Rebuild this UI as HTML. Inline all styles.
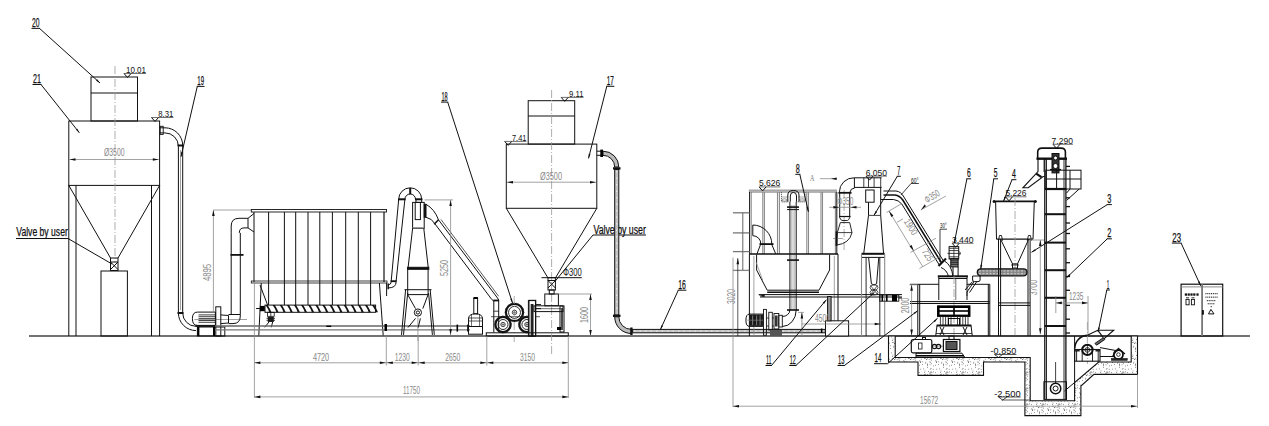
<!DOCTYPE html>
<html><head><meta charset="utf-8"><style>
html,body{margin:0;padding:0;background:#fff;}
svg{display:block;}
.k{stroke:#111;fill:none;stroke-width:1;}
.k2{stroke:#111;fill:none;stroke-width:1.6;}
.g{stroke:#8a8a8a;fill:none;stroke-width:0.8;}
.gd{stroke:#999;fill:none;stroke-width:0.8;stroke-dasharray:8 2 1 2;}
.f{fill:#111;stroke:none;}
.tk{fill:#111;stroke:#111;stroke-width:0.25;font-family:"Liberation Sans",sans-serif;}
.te{fill:#111;font-family:"Liberation Sans",sans-serif;}
.tg{fill:#888;font-family:"Liberation Sans",sans-serif;}
</style></head><body>
<svg width="1269" height="426" viewBox="0 0 1269 426">
<defs><pattern id="conc" width="16" height="16" patternUnits="userSpaceOnUse"><rect width="16" height="16" fill="#fff"/><path d="M7.3,8.9h0.7M14.5,7.5h0.7M8.1,9.3h0.7M3.1,8.2h0.7M10.0,12.5h0.7M1.7,5.0h0.7M1.7,12.8h0.7M11.0,0.9h0.7M15.4,15.2h0.7M10.4,9.8h0.7M2.7,0.5h0.7M8.4,1.2h0.7M3.2,4.0h0.7M0.8,7.4h0.7M7.1,13.3h0.7M8.3,10.2h0.7M8.0,10.5h0.7M7.3,4.6h0.7M15.7,15.6h0.7M13.2,11.2h0.7M5.2,3.8h0.7M4.8,1.4h0.7M12.1,6.5h0.7M13.3,6.3h0.7M15.1,13.3h0.7M0.3,3.5h0.7M14.3,7.5h0.7M15.4,6.4h0.7M1.4,10.0h0.7M12.3,4.5h0.7M1.6,5.4h0.7M15.1,12.0h0.7M2.1,4.1h0.7M1.9,1.2h0.7M12.6,3.0h0.7M8.9,7.2h0.7M3.2,11.6h0.7M2.3,10.2h0.7M2.1,6.8h0.7M3.6,4.5h0.7M15.3,12.7h0.7M5.0,13.9h0.7M3.5,6.4h0.7M13.5,10.2h0.7" stroke="#444" stroke-width="0.8"/></pattern></defs>
<path d="M29,336 L1250,336" stroke="#444" stroke-width="1.3"/>
<rect x="91" y="77" width="46.5" height="44" class="k"/>
<line x1="91" y1="93" x2="137.5" y2="93" class="k"/>
<rect x="68.8" y="121" width="90.8" height="64.4" class="k"/>
<line x1="115" y1="66" x2="115" y2="262" class="gd"/>
<line x1="68.8" y1="185" x2="68.8" y2="336" class="k"/>
<line x1="159.6" y1="185" x2="159.6" y2="336" class="k"/>
<line x1="76" y1="185" x2="76" y2="336" class="k"/>
<line x1="151.5" y1="185" x2="151.5" y2="336" class="k"/>
<line x1="68.8" y1="185.4" x2="110.5" y2="258" class="k"/>
<line x1="159.6" y1="185.4" x2="118" y2="258" class="k"/>
<rect x="110.5" y="258" width="7.5" height="12.5" class="k"/>
<line x1="110.5" y1="262" x2="118" y2="262" class="k"/>
<line x1="110.5" y1="262" x2="118" y2="269.5" class="k"/>
<line x1="118" y1="262" x2="110.5" y2="269.5" class="k"/>
<rect x="101" y="271" width="26.4" height="65" class="k"/>
<line x1="69.5" y1="159.5" x2="158.8" y2="159.5" class="g"/>
<path d="M69.5,159.5 L75.5,158.2 L75.5,160.8 Z" class="f"/>
<path d="M158.8,159.5 L152.8,158.2 L152.8,160.8 Z" class="f"/>
<text x="104" y="156" class="tg" font-size="10.5" textLength="20.5" lengthAdjust="spacingAndGlyphs">Ø3500</text>
<text x="126" y="73" class="te" font-size="8.5" textLength="20" lengthAdjust="spacingAndGlyphs">10.01</text>
<line x1="124.0" y1="73.5" x2="146" y2="73.5" class="k" style="stroke-width:0.6"/>
<path d="M124.0,73.5 L127.5,77.5 L131.0,73.5" class="k"/>
<text x="158.3" y="117" class="te" font-size="8.5" textLength="15.1" lengthAdjust="spacingAndGlyphs">8.31</text>
<line x1="151.5" y1="117.5" x2="173.4" y2="117.5" class="k" style="stroke-width:0.6"/>
<path d="M151.5,117.5 L155,121.5 L158.5,117.5" class="k"/>
<text x="32" y="26.9" class="tk" font-size="12" textLength="7.5" lengthAdjust="spacingAndGlyphs">20</text>
<line x1="31.5" y1="28.4" x2="40.0" y2="28.4" class="k"/>
<line x1="39.5" y1="28.4" x2="100" y2="83" class="k"/>
<path d="M100.00,83.00 L96.06,80.65 L97.26,79.32 Z" class="f"/>
<text x="33" y="83.0" class="tk" font-size="12" textLength="8" lengthAdjust="spacingAndGlyphs">21</text>
<line x1="32.5" y1="84.5" x2="41.5" y2="84.5" class="k"/>
<line x1="41" y1="84.5" x2="79.4" y2="132.8" class="k"/>
<path d="M79.40,132.80 L75.90,129.84 L77.30,128.72 Z" class="f"/>
<text x="16.3" y="236" class="tk" font-size="12" textLength="51.5" lengthAdjust="spacingAndGlyphs">Valve by user</text>
<line x1="16" y1="238.5" x2="68" y2="238.5" class="k"/>
<line x1="68" y1="238.5" x2="112" y2="264" class="k"/>
<path d="M159.6,127.8 L165,127.8 A17.7,17.7 0 0 1 182.7,145.5 L182.7,313" class="k"/>
<path d="M159.6,132.9 L165,132.9 A13.4,13.4 0 0 1 178.4,146.3 L178.4,313" class="k"/>
<line x1="180.5" y1="150" x2="180.5" y2="310" class="g"/>
<rect x="160.2" y="126.3" width="3" height="8.1" class="k" style="stroke-width:0.9"/>
<line x1="177.5" y1="145.5" x2="183.5" y2="145.5" class="k" style="stroke-width:2"/>
<line x1="177.5" y1="313" x2="183.5" y2="313" class="k" style="stroke-width:2"/>
<path d="M178.4,313 A17.6,17.6 0 0 0 196,330.6" class="k"/>
<path d="M182.7,313 A13.3,13.3 0 0 0 196,326.3" class="k"/>
<text x="197.3" y="84.9" class="tk" font-size="12" textLength="6.7" lengthAdjust="spacingAndGlyphs">19</text>
<line x1="196.8" y1="86.4" x2="204.5" y2="86.4" class="k"/>
<line x1="197.3" y1="86.4" x2="181" y2="156.7" class="k"/>
<path d="M181.00,156.70 L181.14,152.11 L182.89,152.52 Z" class="f"/>
<path d="M197.4,312.1 L215.4,312.1 L215.4,325.4 L197.4,325.4 Q192.4,325.4 192.4,318.7 Q192.4,312.1 197.4,312.1 Z" class="k"/>
<line x1="198.5" y1="314.9" x2="215" y2="314.9" class="k" style="stroke-width:0.8"/>
<line x1="198.5" y1="316.7" x2="215" y2="316.7" class="k" style="stroke-width:0.8"/>
<line x1="198.5" y1="318.6" x2="215" y2="318.6" class="k" style="stroke-width:0.8"/>
<line x1="198.5" y1="320.5" x2="215" y2="320.5" class="k" style="stroke-width:0.8"/>
<line x1="198.5" y1="322.3" x2="215" y2="322.3" class="k" style="stroke-width:0.8"/>
<line x1="194.3" y1="319.5" x2="247" y2="319.5" class="g"/>
<rect x="215.8" y="306.8" width="5" height="29.2" class="k"/>
<path d="M220.8,314.9 L228.5,315.5 L228.5,323 L220.8,323.6" class="k"/>
<path d="M228.5,314.5 L240.3,314.5 L240.3,316 Q240.3,323.6 233,323.6 L228.5,323.6" class="k"/>
<line x1="231.2" y1="232.9" x2="231.2" y2="314.5" class="k"/>
<line x1="240.3" y1="232.9" x2="240.3" y2="314.5" class="k"/>
<line x1="195.5" y1="326" x2="215.4" y2="326" class="k" style="stroke-width:1.8"/>
<rect x="197.4" y="327" width="27.4" height="9" class="k"/>
<rect x="197.4" y="327" width="2" height="9" fill="#000"/>
<rect x="213" y="327" width="2" height="9" fill="#000"/>
<path d="M231.2,232.9 L231.2,226 Q231.2,218.3 239,218.3 L248,218.3" class="k"/>
<path d="M239.3,232.9 Q239.3,227.9 244,227.9 L248,227.9" class="k"/>
<path d="M248,218.3 L254,213.5 M248,227.9 L254,232 M248,218.3 L248,227.9" class="k"/>
<line x1="230.5" y1="254.9" x2="243.5" y2="254.9" class="k" style="stroke-width:1.8"/>
<line x1="213.4" y1="210" x2="213.4" y2="313" class="g"/>
<path d="M213.4,210 L212.1,216 L214.70000000000002,216 Z" class="f"/>
<line x1="213.4" y1="210" x2="251" y2="210" class="g"/>
<text x="210.8" y="281" class="tg" font-size="10.5" textLength="17" lengthAdjust="spacingAndGlyphs" transform="rotate(-90 210.8 281)">4895</text>
<rect x="251.3" y="209.5" width="135.2" height="2.5" class="k" style="stroke-width:0.9"/>
<line x1="254" y1="212" x2="254" y2="282" class="k"/>
<line x1="384" y1="212" x2="384" y2="282" class="k" style="stroke-width:1.2"/>
<line x1="268.6" y1="212" x2="268.6" y2="305" class="k"/>
<line x1="284.4" y1="212" x2="284.4" y2="305" class="k"/>
<line x1="295.7" y1="212" x2="295.7" y2="305" class="k"/>
<line x1="308" y1="212" x2="308" y2="305" class="k"/>
<line x1="319.8" y1="212" x2="319.8" y2="305" class="k"/>
<line x1="332.4" y1="212" x2="332.4" y2="305" class="k"/>
<line x1="345.7" y1="212" x2="345.7" y2="305" class="k"/>
<line x1="358.3" y1="212" x2="358.3" y2="305" class="k"/>
<line x1="370.6" y1="212" x2="370.6" y2="305" class="k"/>
<rect x="251.3" y="281" width="135.7" height="2" class="k" style="stroke-width:0.8"/>
<line x1="261.3" y1="283" x2="258.8" y2="335.4" class="k"/>
<line x1="379.4" y1="283" x2="383.2" y2="335.4" class="k"/>
<line x1="260" y1="285" x2="267.6" y2="305" class="k"/>
<rect x="265" y="305.1" width="110.6" height="7.2" class="k"/>
<path d="M265.5,305.1 L267.7,305.1 Q270.0,309 271.5,312.3 L269.3,312.3 Q268.0,308.5 265.5,305.1 Z" class="f"/>
<path d="M272.6,305.1 L274.8,305.1 Q277.1,309 278.6,312.3 L276.40000000000003,312.3 Q275.1,308.5 272.6,305.1 Z" class="f"/>
<path d="M279.7,305.1 L281.9,305.1 Q284.2,309 285.7,312.3 L283.5,312.3 Q282.2,308.5 279.7,305.1 Z" class="f"/>
<path d="M286.8,305.1 L289.0,305.1 Q291.3,309 292.8,312.3 L290.6,312.3 Q289.3,308.5 286.8,305.1 Z" class="f"/>
<path d="M293.9,305.1 L296.09999999999997,305.1 Q298.4,309 299.9,312.3 L297.7,312.3 Q296.4,308.5 293.9,305.1 Z" class="f"/>
<path d="M301.0,305.1 L303.2,305.1 Q305.5,309 307.0,312.3 L304.8,312.3 Q303.5,308.5 301.0,305.1 Z" class="f"/>
<path d="M308.1,305.1 L310.3,305.1 Q312.6,309 314.1,312.3 L311.90000000000003,312.3 Q310.6,308.5 308.1,305.1 Z" class="f"/>
<path d="M315.2,305.1 L317.4,305.1 Q319.7,309 321.2,312.3 L319.0,312.3 Q317.7,308.5 315.2,305.1 Z" class="f"/>
<path d="M322.3,305.1 L324.5,305.1 Q326.8,309 328.3,312.3 L326.1,312.3 Q324.8,308.5 322.3,305.1 Z" class="f"/>
<path d="M329.4,305.1 L331.59999999999997,305.1 Q333.9,309 335.4,312.3 L333.2,312.3 Q331.9,308.5 329.4,305.1 Z" class="f"/>
<path d="M336.5,305.1 L338.7,305.1 Q341.0,309 342.5,312.3 L340.3,312.3 Q339.0,308.5 336.5,305.1 Z" class="f"/>
<path d="M343.6,305.1 L345.8,305.1 Q348.1,309 349.6,312.3 L347.40000000000003,312.3 Q346.1,308.5 343.6,305.1 Z" class="f"/>
<path d="M350.7,305.1 L352.9,305.1 Q355.2,309 356.7,312.3 L354.5,312.3 Q353.2,308.5 350.7,305.1 Z" class="f"/>
<path d="M357.8,305.1 L360.0,305.1 Q362.3,309 363.8,312.3 L361.6,312.3 Q360.3,308.5 357.8,305.1 Z" class="f"/>
<path d="M364.9,305.1 L367.09999999999997,305.1 Q369.4,309 370.9,312.3 L368.7,312.3 Q367.4,308.5 364.9,305.1 Z" class="f"/>
<path d="M372.0,305.1 L374.2,305.1 Q376.5,309 378.0,312.3 L375.8,312.3 Q374.5,308.5 372.0,305.1 Z" class="f"/>
<rect x="259.9" y="305.9" width="4.9" height="5.3" fill="#000"/>
<line x1="256.1" y1="308.5" x2="260" y2="308.5" class="k"/>
<rect x="267.4" y="312.3" width="6.8" height="4" class="k" style="stroke-width:0.8"/>
<line x1="270.8" y1="312.3" x2="270.8" y2="316.3" class="k" style="stroke-width:0.8"/>
<rect x="267.8" y="316.8" width="6" height="5.2" fill="#222"/>
<line x1="266.5" y1="318.3" x2="275" y2="318.3" class="k" style="stroke-width:0.8"/>
<line x1="266.5" y1="320.3" x2="275" y2="320.3" class="k" style="stroke-width:0.8"/>
<path d="M268.9,322 L264.8,327.3 M272.7,322 L271.2,327.3" class="k"/>
<path d="M215,326 L470,326" stroke="#666" stroke-width="1.4"/>
<path d="M215,329.9 L470,329.9" stroke="#777" stroke-width="1.2"/>
<rect x="384.5" y="324" width="2.5" height="7" fill="#000"/>
<rect x="326.3" y="325.6" width="4.9" height="1.4" fill="#000"/>
<path d="M398.7,199.3 A11.5,11.5 0 0 1 421.7,199.3" class="k"/>
<path d="M404.9,199.3 A5.3,5.3 0 0 1 415.5,199.3" class="k"/>
<line x1="410.2" y1="188" x2="410.2" y2="194.2" class="k" style="stroke-width:2"/>
<line x1="398" y1="199.3" x2="405.6" y2="199.3" class="k" style="stroke-width:2"/>
<line x1="415" y1="199.3" x2="422.4" y2="199.3" class="k" style="stroke-width:2"/>
<line x1="398.7" y1="199.3" x2="391.2" y2="281.2" class="k"/>
<line x1="404.9" y1="199.3" x2="396.1" y2="281.2" class="k"/>
<line x1="390.5" y1="281.2" x2="396.7" y2="281.2" class="k" style="stroke-width:1.8"/>
<line x1="416" y1="199.3" x2="416" y2="202.4" class="k"/>
<line x1="421.7" y1="199.3" x2="421.7" y2="202.4" class="k"/>
<path d="M396.1,282 Q396,287.9 388.4,287.9 M391.2,282 Q391,284.7 388.4,284.7" class="k"/>
<line x1="388.2" y1="283.6" x2="388.2" y2="289.2" class="k" style="stroke-width:1.5"/>
<line x1="386.6" y1="283" x2="386.6" y2="296" class="k"/>
<rect x="412.6" y="202.4" width="11.6" height="26.1" class="k"/>
<rect x="415.2" y="202.4" width="5.2" height="17.2" class="k"/>
<line x1="412.6" y1="227.9" x2="424.2" y2="227.9" class="g" style="stroke-width:1.5"/>
<line x1="412.6" y1="228.5" x2="408" y2="268.3" class="k"/>
<line x1="423.8" y1="228.5" x2="428.3" y2="268.3" class="k"/>
<rect x="407.5" y="267.3" width="21.3" height="2" class="k" style="fill:#111"/>
<line x1="407.7" y1="269" x2="407.7" y2="294.6" class="k"/>
<line x1="428.1" y1="269" x2="428.1" y2="294.6" class="k"/>
<line x1="407.7" y1="294.6" x2="428.1" y2="294.6" class="k"/>
<line x1="407.7" y1="294.6" x2="415.5" y2="308.6" class="k"/>
<line x1="428.1" y1="294.6" x2="422.8" y2="308.6" class="k"/>
<circle cx="417.9" cy="312.5" r="3.6" class="k"/>
<circle cx="417.9" cy="312.5" r="1.6" class="k"/>
<line x1="417.9" y1="315" x2="417.9" y2="341" class="g"/>
<path d="M405.6,289.7 L401.5,334.9 M407.7,293 L403.5,334.9 M430.2,289.7 L434.3,334.9 M428.6,293 L432.4,334.9" class="k"/>
<line x1="404.5" y1="289.7" x2="431.5" y2="289.7" class="k"/>
<line x1="415.5" y1="318.4" x2="408" y2="327.5" class="k"/>
<line x1="420.4" y1="318.4" x2="418.2" y2="327.5" class="k"/>
<rect x="424.2" y="204.3" width="1.8" height="13" class="k" style="fill:#111"/>
<path d="M426,204.3 Q434.5,209 438.5,219.8" class="k"/>
<path d="M426,217.3 Q432,218.5 434.7,223.5" class="k"/>
<line x1="434.1" y1="224.2" x2="438.5" y2="219.8" class="k" style="stroke-width:1.5"/>
<line x1="434.7" y1="223.5" x2="491.8" y2="299.5" class="k"/>
<line x1="438.5" y1="219.8" x2="497.5" y2="298" class="k"/>
<line x1="441" y1="219.5" x2="498.6" y2="296.2" class="k" style="stroke-width:0.7"/>
<line x1="424.5" y1="199.9" x2="453" y2="199.9" class="g"/>
<line x1="450.6" y1="199.9" x2="450.6" y2="335" class="g"/>
<path d="M450.6,199.9 L449.3,205.9 L451.90000000000003,205.9 Z" class="f"/>
<path d="M450.6,335 L449.3,329 L451.90000000000003,329 Z" class="f"/>
<text x="447.8" y="276" class="tg" font-size="10.5" textLength="16" lengthAdjust="spacingAndGlyphs" transform="rotate(-90 447.8 276)">5250</text>
<rect x="456.5" y="324.6" width="1.6" height="7" fill="#000"/>
<rect x="467.2" y="324.6" width="1.6" height="7" fill="#000"/>
<rect x="473.8" y="298.5" width="3.8" height="15.3" class="k"/>
<rect x="473.5" y="297" width="4.4" height="2" fill="#000"/>
<path d="M468.5,326.5 L468.5,319 Q468.5,313.8 475.5,313.8 Q482.5,313.8 482.5,319 L482.5,326.5 Z" class="k"/>
<line x1="468.5" y1="318" x2="482.5" y2="318" class="k" style="stroke-width:0.7"/>
<line x1="468.5" y1="321" x2="482.5" y2="321" class="k" style="stroke-width:0.7"/>
<line x1="471.5" y1="314.5" x2="471.5" y2="326.5" class="k" style="stroke-width:0.6"/>
<line x1="479.5" y1="314.5" x2="479.5" y2="326.5" class="k" style="stroke-width:0.6"/>
<rect x="468.5" y="326.5" width="14" height="7.7" class="k"/>
<path d="M491.8,299.5 L493.8,301 L493.8,317 M497.5,298 L498.7,300 L498.7,317" class="k"/>
<line x1="493.3" y1="300.5" x2="499" y2="300.5" class="k" style="stroke-width:1.8"/>
<line x1="493.8" y1="311.2" x2="498.7" y2="311.2" class="k" style="stroke-width:0.8"/>
<line x1="491" y1="316.7" x2="540" y2="316.7" class="k" style="stroke-width:0.7"/>
<line x1="493.8" y1="317" x2="493.8" y2="332.4" class="k"/>
<line x1="498.7" y1="317" x2="498.7" y2="332.4" class="k"/>
<circle cx="514.5" cy="312.4" r="8.6" class="k" style="stroke-width:2.2"/>
<circle cx="514.5" cy="312.4" r="9.299999999999999" fill="none" stroke="#333" stroke-width="0.9" stroke-dasharray="0.8 1"/>
<circle cx="514.5" cy="312.4" r="6.0" class="k" style="stroke-width:0.9"/>
<circle cx="514.5" cy="312.4" r="2.2" class="k" style="stroke-width:0.8"/>
<line x1="513.0" y1="312.4" x2="516.0" y2="312.4" class="k" style="stroke-width:0.5"/>
<line x1="514.5" y1="310.9" x2="514.5" y2="313.9" class="k" style="stroke-width:0.5"/>
<circle cx="503" cy="324.5" r="7.6" class="k" style="stroke-width:2.2"/>
<circle cx="503" cy="324.5" r="8.299999999999999" fill="none" stroke="#333" stroke-width="0.9" stroke-dasharray="0.8 1"/>
<circle cx="503" cy="324.5" r="5.0" class="k" style="stroke-width:0.9"/>
<circle cx="503" cy="324.5" r="2.2" class="k" style="stroke-width:0.8"/>
<line x1="501.5" y1="324.5" x2="504.5" y2="324.5" class="k" style="stroke-width:0.5"/>
<line x1="503" y1="323.0" x2="503" y2="326.0" class="k" style="stroke-width:0.5"/>
<circle cx="526.9" cy="324.5" r="7.6" class="k" style="stroke-width:2.2"/>
<circle cx="526.9" cy="324.5" r="8.299999999999999" fill="none" stroke="#333" stroke-width="0.9" stroke-dasharray="0.8 1"/>
<circle cx="526.9" cy="324.5" r="5.0" class="k" style="stroke-width:0.9"/>
<circle cx="526.9" cy="324.5" r="2.2" class="k" style="stroke-width:0.8"/>
<line x1="525.4" y1="324.5" x2="528.4" y2="324.5" class="k" style="stroke-width:0.5"/>
<line x1="526.9" y1="323.0" x2="526.9" y2="326.0" class="k" style="stroke-width:0.5"/>
<line x1="514.2" y1="296" x2="514.2" y2="342" class="gd"/>
<rect x="528.4" y="300.6" width="7.1" height="35.4" class="k" style="fill:#fff"/>
<rect x="531.2" y="304.6" width="1.8" height="31.4" class="k" style="fill:#333"/>
<line x1="535.5" y1="304.6" x2="541" y2="304.6" class="k"/>
<line x1="535.5" y1="308.6" x2="541" y2="308.6" class="k"/>
<rect x="486.3" y="332.8" width="82" height="3.2" class="k"/>
<rect x="528.2" y="100.7" width="46.5" height="43.4" class="k"/>
<line x1="528.2" y1="116" x2="574.7" y2="116" class="k"/>
<rect x="506.3" y="144.1" width="90.5" height="64.2" class="k"/>
<line x1="551.6" y1="90" x2="551.6" y2="290" class="gd"/>
<line x1="551.6" y1="294" x2="551.6" y2="356" class="gd"/>
<line x1="506.3" y1="208.3" x2="548" y2="278" class="k"/>
<line x1="596.8" y1="208.3" x2="555.4" y2="278" class="k"/>
<line x1="507" y1="182.2" x2="596" y2="182.2" class="g"/>
<path d="M507,182.2 L513,180.89999999999998 L513,183.5 Z" class="f"/>
<path d="M596,182.2 L590,180.89999999999998 L590,183.5 Z" class="f"/>
<text x="540" y="179.5" class="tg" font-size="10.5" textLength="22" lengthAdjust="spacingAndGlyphs">Ø3500</text>
<text x="569" y="96.9" class="te" font-size="8.5" textLength="14.5" lengthAdjust="spacingAndGlyphs">9.11</text>
<line x1="561.2" y1="97.4" x2="583.5" y2="97.4" class="k" style="stroke-width:0.6"/>
<path d="M561.2,97.4 L564.7,101.4 L568.2,97.4" class="k"/>
<text x="512" y="140.9" class="te" font-size="8.5" textLength="14.4" lengthAdjust="spacingAndGlyphs">7.41</text>
<line x1="504.7" y1="141.4" x2="526.4" y2="141.4" class="k" style="stroke-width:0.6"/>
<path d="M504.7,141.4 L508.2,145.4 L511.7,141.4" class="k"/>
<text x="606.8" y="84.8" class="tk" font-size="12" textLength="7.1" lengthAdjust="spacingAndGlyphs">17</text>
<line x1="606.3" y1="86.3" x2="614.4" y2="86.3" class="k"/>
<line x1="606.8" y1="86.3" x2="588.5" y2="158.4" class="k"/>
<path d="M588.50,158.40 L588.73,153.82 L590.48,154.26 Z" class="f"/>
<text x="441.5" y="100.6" class="tk" font-size="12" textLength="6.2" lengthAdjust="spacingAndGlyphs">18</text>
<line x1="441.0" y1="102.1" x2="448.2" y2="102.1" class="k"/>
<line x1="447.7" y1="102.1" x2="512.5" y2="303" class="k"/>
<path d="M512.50,303.00 L510.26,298.99 L511.98,298.44 Z" class="f"/>
<rect x="548" y="277.7" width="7.4" height="12.3" class="k"/>
<line x1="548" y1="280.5" x2="555.4" y2="288" class="k"/>
<line x1="555.4" y1="280.5" x2="548" y2="288" class="k"/>
<line x1="548" y1="280.5" x2="555.4" y2="280.5" class="k"/>
<rect x="549.3" y="290" width="4.8" height="4" class="k"/>
<rect x="544.8" y="294" width="13.6" height="11.8" class="k"/>
<rect x="534" y="305.8" width="29" height="5.8" class="k"/>
<line x1="535.8" y1="308.7" x2="561" y2="308.7" class="k" style="stroke-width:0.6"/>
<rect x="529" y="300.3" width="6.8" height="35.7" class="k"/>
<rect x="560" y="306" width="4" height="26" class="k" style="fill:none"/>
<line x1="562" y1="308" x2="562" y2="330" class="k" style="stroke-width:1.5"/>
<rect x="557" y="327" width="4" height="3" fill="#000"/>
<text x="563" y="276.4" class="te" font-size="11" textLength="18.8" lengthAdjust="spacingAndGlyphs">Φ300</text>
<line x1="541.5" y1="277.7" x2="581.8" y2="277.7" class="k"/>
<text x="593.5" y="233.5" class="tk" font-size="12" textLength="52.3" lengthAdjust="spacingAndGlyphs">Valve by user</text>
<line x1="593" y1="235" x2="646" y2="235" class="k"/>
<line x1="593" y1="235" x2="554.5" y2="282" class="k"/>
<line x1="558.5" y1="294" x2="592" y2="294" class="g"/>
<line x1="590.5" y1="294" x2="590.5" y2="336" class="g"/>
<path d="M590.5,294 L589.2,300 L591.8,300 Z" class="f"/>
<path d="M590.5,336 L589.2,330 L591.8,330 Z" class="f"/>
<text x="588" y="323" class="tg" font-size="10.5" textLength="16" lengthAdjust="spacingAndGlyphs" transform="rotate(-90 588 323)">1600</text>
<line x1="596.8" y1="151.2" x2="603" y2="151.2" class="k"/>
<line x1="596.8" y1="155.3" x2="603" y2="155.3" class="k"/>
<rect x="600.3" y="149.6" width="2.7" height="7.4" fill="#000"/>
<path d="M603,151.2 A15.8,15.8 0 0 1 618.8,167 L614.7,167 A11.7,11.7 0 0 0 603,155.3 Z" class="k" style="stroke-width:1;fill:#bdbdbd"/>
<line x1="613" y1="168.4" x2="620.5" y2="168.4" class="k" style="stroke-width:2.4"/>
<rect x="614.7" y="169.5" width="4.1" height="145.6" class="k" style="stroke-width:1;fill:#c4c4c4"/>
<path d="M616.75,171 L616.75,314" stroke="#f4f4f4" stroke-width="0.9" stroke-dasharray="1.5 5"/>
<line x1="613" y1="315.8" x2="620.5" y2="315.8" class="k" style="stroke-width:2.4"/>
<path d="M614.7,316.8 A16.7,16.7 0 0 0 631.4,333.5 L631.4,329.4 A12.6,12.6 0 0 1 618.8,316.8 Z" class="k" style="stroke-width:1;fill:#bdbdbd"/>
<line x1="631.4" y1="327.5" x2="631.4" y2="335" class="k" style="stroke-width:2.4"/>
<rect x="632.6" y="329.4" width="192.7" height="3.4" class="k" style="stroke-width:1;fill:#c4c4c4"/>
<path d="M634,331.1 L825,331.1" stroke="#f4f4f4" stroke-width="0.9" stroke-dasharray="1.5 4"/>
<text x="678.3" y="288.7" class="tk" font-size="12" textLength="7.6" lengthAdjust="spacingAndGlyphs">16</text>
<line x1="677.8" y1="290.2" x2="686.4" y2="290.2" class="k"/>
<line x1="678.3" y1="290.2" x2="660.3" y2="329.8" class="k"/>
<path d="M660.30,329.80 L661.34,325.33 L662.98,326.08 Z" class="f"/>
<rect x="749.3" y="190" width="87.2" height="2.2" class="g" style="fill:#bbb"/>
<line x1="749.6" y1="192" x2="749.6" y2="254.1" class="k" style="stroke-width:1"/>
<line x1="751.2" y1="192" x2="751.2" y2="254.1" class="g" style="stroke-width:1.1"/>
<line x1="762.8" y1="192" x2="762.8" y2="254.1" class="g" style="stroke-width:1.1"/>
<line x1="764.4" y1="192" x2="764.4" y2="254.1" class="g" style="stroke-width:1.1"/>
<line x1="777.5" y1="192" x2="777.5" y2="254.1" class="g" style="stroke-width:1.1"/>
<line x1="779.4" y1="192" x2="779.4" y2="254.1" class="g" style="stroke-width:1.1"/>
<line x1="806.8" y1="192" x2="806.8" y2="254.1" class="g" style="stroke-width:1.1"/>
<line x1="808.5" y1="192" x2="808.5" y2="254.1" class="g" style="stroke-width:1.1"/>
<line x1="821" y1="192" x2="821" y2="254.1" class="g" style="stroke-width:1.1"/>
<line x1="822.5" y1="192" x2="822.5" y2="254.1" class="g" style="stroke-width:1.1"/>
<line x1="835.4" y1="192" x2="835.4" y2="254.1" class="g" style="stroke-width:1.1"/>
<line x1="836.8" y1="192" x2="836.8" y2="254.1" class="k" style="stroke-width:1"/>
<path d="M781.5,192 L781.5,201.9 L788.3,201.9 M797.6,201.9 L805.1,201.9 L805.1,192" stroke="#555" stroke-width="0.9" fill="none" stroke-dasharray="1.2 0.8"/>
<ellipse cx="784.5" cy="200" rx="2.6" ry="1.2" fill="none" stroke="#666" stroke-width="0.7"/>
<ellipse cx="802" cy="200" rx="2.6" ry="1.2" fill="none" stroke="#666" stroke-width="0.7"/>
<path d="M782,197 L788,197 M798,197 L804.6,197" stroke="#aaa" stroke-width="1"/>
<path d="M787.8,201.7 L787.8,195 Q787.8,190.5 793.4,190.5 Q799,190.5 799,195 L799,201.7" class="k"/>
<path d="M790.3,201.7 L790.3,196 Q790.3,192.4 793.4,192.4 Q796.5,192.4 796.5,196 L796.5,201.7" class="k"/>
<line x1="789.9" y1="201.7" x2="789.9" y2="310" class="k"/>
<line x1="796.2" y1="201.7" x2="796.2" y2="310" class="k"/>
<line x1="791.9" y1="205" x2="791.9" y2="310" class="g"/>
<line x1="794.1" y1="205" x2="794.1" y2="310" class="g"/>
<line x1="787" y1="207.1" x2="799" y2="207.1" class="k" style="stroke-width:1.6"/>
<line x1="787" y1="209.6" x2="799" y2="209.6" class="k" style="stroke-width:1"/>
<line x1="787" y1="260.1" x2="799" y2="260.1" class="k" style="stroke-width:1.6"/>
<path d="M796.2,310 A14,16.5 0 0 1 782.3,326.5 M789.9,310 A7.6,6.5 0 0 1 782.3,316.5" class="k"/>
<line x1="787" y1="310" x2="799" y2="310" class="k" style="stroke-width:1.6"/>
<path d="M732.9,212.8 L749.4,212.8" stroke="#777" stroke-width="1.3"/>
<path d="M732.9,232.9 L749.4,232.9" stroke="#777" stroke-width="1.3"/>
<path d="M732.9,251.6 L749.4,251.6" stroke="#777" stroke-width="1.3"/>
<path d="M732.9,270.4 L749.4,270.4" stroke="#777" stroke-width="1.3"/>
<path d="M742.8,212.8 L742.8,270.4" stroke="#666" stroke-width="1"/>
<path d="M752.8,225 A19,19 0 0 1 771.8,244.1 M752.8,235.7 A8,8 0 0 1 760.8,244.1 M752.8,225 L752.8,235.7" class="k"/>
<line x1="759.5" y1="244.1" x2="773.5" y2="244.1" class="k" style="stroke-width:1.8"/>
<path d="M760.7,244.1 L757,253.8 M771.6,244.1 L775.7,253.8" class="k"/>
<line x1="749.4" y1="254.1" x2="838" y2="254.1" class="k" style="stroke-width:1.5"/>
<line x1="749.4" y1="254.1" x2="749.4" y2="336" class="k"/>
<line x1="838" y1="254.1" x2="838" y2="336" class="k"/>
<line x1="753.9" y1="256" x2="753.9" y2="336" class="g"/>
<line x1="834.3" y1="256" x2="834.3" y2="336" class="g"/>
<path d="M756.6,254.7 L756.6,270 L767.2,290.2 L819,290.2 L829.6,270 L829.6,254.7" class="k"/>
<line x1="767.2" y1="292.3" x2="819" y2="292.3" class="k" style="stroke-width:1.4"/>
<line x1="756" y1="262" x2="762.6" y2="280" class="g"/>
<line x1="758.7" y1="294.6" x2="902" y2="294.6" class="k" style="stroke-width:1"/>
<line x1="760" y1="297" x2="902" y2="297" class="k" style="stroke-width:1"/>
<path d="M758.7,295.8 L764.7,294.5 L764.7,297.1 Z" class="f"/>
<rect x="825.5" y="320.8" width="23.1" height="15.2" class="k" style="fill:#fff"/>
<rect x="827.6" y="296.5" width="3.5" height="24.3" class="k" style="fill:#999"/>
<rect x="820.9" y="328.5" width="1.5" height="4.5" fill="#000"/>
<path d="M749.4,314.1 L762.9,314.1 L762.9,326.4 L749.4,326.4 Q745.9,326.4 745.9,320.25 Q745.9,314.1 749.4,314.1 Z" class="k" style="stroke-width:1"/>
<rect x="749.4" y="314.6" width="13.5" height="11.3" fill="#1a1a1a"/>
<rect x="752.2" y="315.5" width="0.9" height="9.5" fill="#888"/>
<rect x="756.2" y="315.5" width="0.9" height="9.5" fill="#888"/>
<rect x="759.6" y="315.5" width="0.9" height="9.5" fill="#888"/>
<line x1="745.5" y1="320.2" x2="763" y2="320.2" class="g" style="stroke-width:0.6"/>
<rect x="763.5" y="309.4" width="2.9" height="25.8" class="k" style="stroke-width:0.9"/>
<rect x="768.8" y="312.3" width="3.5" height="17.7" class="k" style="stroke-width:0.9"/>
<rect x="774" y="313.5" width="4.8" height="15.5" class="k" style="stroke-width:0.9"/>
<rect x="775" y="315.5" width="2.6" height="11" fill="#333"/>
<rect x="778.8" y="315.3" width="3.5" height="11.7" class="k" style="stroke-width:0.9"/>
<line x1="766.4" y1="318" x2="768.8" y2="318" class="k" style="stroke-width:0.8"/>
<line x1="766.4" y1="326" x2="768.8" y2="326" class="k" style="stroke-width:0.8"/>
<line x1="772.3" y1="318" x2="774" y2="318" class="k" style="stroke-width:0.8"/>
<line x1="772.3" y1="326" x2="774" y2="326" class="k" style="stroke-width:0.8"/>
<rect x="770" y="330" width="12" height="6" fill="#555"/>
<line x1="801.9" y1="324" x2="880.7" y2="324" class="g"/>
<path d="M880.7,324 L874.7,322.7 L874.7,325.3 Z" class="f"/>
<line x1="801.9" y1="312.4" x2="801.9" y2="336" class="g" style="stroke-width:0.9"/>
<line x1="798" y1="312.4" x2="804" y2="312.4" class="g"/>
<path d="M801.9,312.4 L800.6,318.4 L803.1999999999999,318.4 Z" class="f"/>
<text x="814.9" y="321.9" class="tg" font-size="10.5" textLength="15" lengthAdjust="spacingAndGlyphs">4500</text>
<line x1="733" y1="257.5" x2="733" y2="407" class="g"/>
<line x1="733" y1="270.5" x2="749.4" y2="270.5" class="g"/>
<line x1="737.8" y1="258.2" x2="737.8" y2="336" class="k" style="stroke-width:0.7"/>
<path d="M737.8,258.2 L736.5,264.2 L739.0999999999999,264.2 Z" class="f"/>
<text x="735.3" y="304" class="tg" font-size="10.5" textLength="15" lengthAdjust="spacingAndGlyphs" transform="rotate(-90 735.3 304)">3020</text>
<text x="795.8" y="172.8" class="tk" font-size="12" textLength="4.0" lengthAdjust="spacingAndGlyphs">8</text>
<line x1="795.3" y1="174.3" x2="800.3" y2="174.3" class="k"/>
<line x1="799.8" y1="174.3" x2="808.4" y2="211.8" class="k"/>
<path d="M808.40,211.80 L806.52,207.62 L808.27,207.21 Z" class="f"/>
<text x="810" y="181.4" font-size="8" fill="#777" font-family="Liberation Serif, serif" textLength="4.4" lengthAdjust="spacingAndGlyphs">A</text>
<line x1="819.9" y1="178.7" x2="836.7" y2="178.7" class="g"/>
<path d="M831,178.7 L836.7,177.5 L836.7,179.9 Z" class="f"/>
<text x="758.9" y="186.4" class="te" font-size="8.5" textLength="21.5" lengthAdjust="spacingAndGlyphs">5.626</text>
<line x1="759.1" y1="186.9" x2="780.4" y2="186.9" class="k" style="stroke-width:0.6"/>
<path d="M759.1,186.9 L762.6,190.9 L766.1,186.9" class="k"/>
<path d="M854.4,177.8 A14.5,14.1 0 0 0 839.4,191.9" class="k"/>
<path d="M854.4,188.1 A4.8,4 0 0 0 850.2,191.9" class="k"/>
<line x1="854.4" y1="177.8" x2="854.4" y2="188.1" class="k"/>
<line x1="854.4" y1="177.8" x2="881.6" y2="177.8" class="k"/>
<line x1="854.4" y1="187.4" x2="881.6" y2="187.4" class="k"/>
<line x1="863.8" y1="177.8" x2="863.8" y2="187.4" class="k" style="stroke-width:0.8"/>
<line x1="868.5" y1="177.8" x2="868.5" y2="187.4" class="k" style="stroke-width:0.8"/>
<line x1="874.1" y1="177.8" x2="874.1" y2="187.4" class="k" style="stroke-width:0.8"/>
<line x1="880.7" y1="177.8" x2="880.7" y2="187.4" class="k" style="stroke-width:0.8"/>
<line x1="839.7" y1="191.9" x2="839.7" y2="217.5" class="k"/>
<line x1="849.7" y1="191.9" x2="849.7" y2="217.5" class="k"/>
<line x1="844.1" y1="190" x2="844.1" y2="250" class="gd"/>
<line x1="838.4" y1="192.8" x2="851.5" y2="192.8" class="k" style="stroke-width:1.8"/>
<line x1="839" y1="216.5" x2="850.5" y2="216.5" class="k" style="stroke-width:1.2"/>
<path d="M839.7,217.5 Q840.5,220 842,220.5 L847.5,220.5 Q849,220 849.7,217.5" class="k" style="stroke-width:0.9"/>
<path d="M840.3,222.6 L837.4,232.6 L836.8,245 Q849.5,243.5 852,232.6 L849.7,222.6 Z" class="k" style="stroke-width:0.9"/>
<line x1="837.4" y1="232.6" x2="852" y2="232.6" class="k" style="stroke-width:0.8"/>
<line x1="833" y1="238.5" x2="843" y2="238.5" class="g"/>
<line x1="836.4" y1="231.4" x2="836.4" y2="246" class="k" style="stroke-width:1.6"/>
<line x1="829.2" y1="207.3" x2="861" y2="207.3" class="g"/>
<path d="M839.4,207.3 L833.4,206.0 L833.4,208.60000000000002 Z" class="f"/>
<path d="M850.5,207.3 L856.5,206.0 L856.5,208.60000000000002 Z" class="f"/>
<text x="837.3" y="204.6" class="tg" font-size="10.5" textLength="16" lengthAdjust="spacingAndGlyphs">Φ350</text>
<rect x="865.7" y="190" width="8.4" height="12.2" class="k"/>
<line x1="868.5" y1="202.2" x2="868.5" y2="215.4" class="k"/>
<line x1="880.7" y1="187.4" x2="880.7" y2="215.4" class="k"/>
<line x1="868.5" y1="215.4" x2="880.7" y2="215.4" class="k" style="stroke-width:0.8"/>
<line x1="868.5" y1="215.4" x2="863.8" y2="253" class="k"/>
<line x1="880.7" y1="215.4" x2="883.5" y2="253" class="k"/>
<line x1="861.5" y1="253.8" x2="884.7" y2="253.8" class="k" style="stroke-width:2"/>
<line x1="861.5" y1="257.4" x2="884.7" y2="257.4" class="k"/>
<line x1="861.5" y1="253.8" x2="861.5" y2="336" class="g" style="stroke-width:1.1"/>
<line x1="884.7" y1="253.8" x2="884.7" y2="336" class="g" style="stroke-width:1.1"/>
<line x1="866.1" y1="257.4" x2="866.1" y2="336" class="k" style="stroke-width:0.9"/>
<line x1="879.8" y1="257.4" x2="879.8" y2="336" class="k" style="stroke-width:0.9"/>
<path d="M868.6,257.4 L871.4,283.8 Q874,286 876.6,283.8 L878.8,257.4" class="k"/>
<ellipse cx="874" cy="287.5" rx="4" ry="2.6" fill="none" stroke="#333" stroke-width="0.8"/>
<ellipse cx="874" cy="292.5" rx="4" ry="2.6" fill="none" stroke="#333" stroke-width="0.8"/>
<line x1="870.5" y1="285.5" x2="877.5" y2="294.5" class="k" style="stroke-width:0.7"/>
<line x1="877.5" y1="285.5" x2="870.5" y2="294.5" class="k" style="stroke-width:0.7"/>
<rect x="879.8" y="295" width="19" height="6.2" class="k" style="stroke-width:0.9"/>
<rect x="881.5" y="295" width="1.6" height="6.2" fill="#000"/>
<rect x="886" y="295" width="1.6" height="6.2" fill="#000"/>
<rect x="892" y="295" width="5" height="6.2" fill="#000"/>
<line x1="898.8" y1="298" x2="902" y2="298" class="k"/>
<text x="865.7" y="175.6" class="te" font-size="8.5" textLength="21.3" lengthAdjust="spacingAndGlyphs">6.050</text>
<line x1="866.0" y1="176.1" x2="887" y2="176.1" class="k" style="stroke-width:0.6"/>
<path d="M866.0,176.1 L869.5,180.1 L873.0,176.1" class="k"/>
<text x="897.3" y="174.8" class="tk" font-size="12" textLength="3.0" lengthAdjust="spacingAndGlyphs">7</text>
<line x1="896.8" y1="176.3" x2="900.8" y2="176.3" class="k"/>
<line x1="897.3" y1="176.3" x2="874" y2="215.3" class="k"/>
<path d="M874.00,215.30 L875.54,210.98 L877.08,211.90 Z" class="f"/>
<path d="M883.5,191 L896,191 Q901,191.5 903.9,197 L943.5,261" class="k"/>
<path d="M883.5,195 L895,195 Q899.5,195.5 902.8,200 L941.6,263" class="k" style="stroke-width:1.6"/>
<path d="M881,199.5 L893.5,199.5 Q898.5,200 901.8,204 L939.6,265.5" class="k"/>
<text x="911" y="183.1" class="te" font-size="8" textLength="7.5" lengthAdjust="spacingAndGlyphs">60°</text>
<line x1="911" y1="183.5" x2="918.8" y2="183.5" class="k" style="stroke-width:0.8"/>
<line x1="911" y1="183.5" x2="901" y2="195" class="k" style="stroke-width:0.8"/>
<line x1="920.9" y1="210" x2="945.9" y2="196" class="g"/>
<path d="M920.9,210 L925.9,206.2 L924.8,204.2 Z" class="f"/>
<text x="927" y="203.5" class="tg" font-size="10" textLength="16" lengthAdjust="spacingAndGlyphs" transform="rotate(-31 927 203.5)">Φ350</text>
<line x1="903" y1="218.9" x2="897" y2="222.3" class="g"/>
<line x1="886.5" y1="212.5" x2="901" y2="204" class="g"/>
<line x1="889" y1="211" x2="922.9" y2="266.8" class="g"/>
<line x1="910.5" y1="252.5" x2="936" y2="238.2" class="g"/>
<line x1="919.5" y1="268.5" x2="938.5" y2="257.5" class="g"/>
<text x="903.5" y="221.5" class="tg" font-size="10" textLength="17" lengthAdjust="spacingAndGlyphs" transform="rotate(58 903.5 221.5)">1900</text>
<text x="921.5" y="251.5" class="tg" font-size="10" textLength="12.5" lengthAdjust="spacingAndGlyphs" transform="rotate(58 921.5 251.5)">725</text>
<path d="M889,211 L891.3,216.9 L893.4,215.6 Z" class="f"/>
<path d="M913.9,250.9 L911.6,245 L909.5,246.3 Z" class="f"/>
<text x="940" y="228.2" class="te" font-size="8" textLength="6.7" lengthAdjust="spacingAndGlyphs">30°</text>
<line x1="940" y1="229.2" x2="947" y2="229.2" class="k" style="stroke-width:0.8"/>
<line x1="940" y1="229.2" x2="940" y2="262" class="k" style="stroke-width:0.8"/>
<rect x="949.1" y="246.6" width="9.6" height="12.4" class="k"/>
<line x1="949.1" y1="248.3" x2="958.7" y2="248.3" class="k" style="stroke-width:0.8"/>
<line x1="949.1" y1="250.6" x2="958.7" y2="250.6" class="k" style="stroke-width:0.8"/>
<line x1="949.1" y1="256.8" x2="958.7" y2="256.8" class="k" style="stroke-width:0.8"/>
<line x1="949.1" y1="258.5" x2="958.7" y2="258.5" class="k" style="stroke-width:0.8"/>
<line x1="953.9" y1="247" x2="953.9" y2="259" class="k" style="stroke-width:0.7"/>
<line x1="947.5" y1="253.4" x2="960" y2="253.4" class="k" style="stroke-width:0.8"/>
<path d="M958.7,251.2 L961,253.4 L958.7,255.6" class="k" style="stroke-width:0.8"/>
<rect x="950.8" y="259" width="7.3" height="7.9" class="k" style="fill:#777"/>
<line x1="950.8" y1="260.8" x2="958.1" y2="260.8" class="k" style="stroke-width:0.7"/>
<line x1="950.8" y1="262.6" x2="958.1" y2="262.6" class="k" style="stroke-width:0.7"/>
<line x1="950.8" y1="264.4" x2="958.1" y2="264.4" class="k" style="stroke-width:0.7"/>
<line x1="953" y1="266.9" x2="953" y2="276.5" class="k"/>
<line x1="958.1" y1="266.9" x2="958.1" y2="276.5" class="k"/>
<text x="951.9" y="242.8" class="te" font-size="8.5" textLength="21.6" lengthAdjust="spacingAndGlyphs">3.440</text>
<line x1="952.2" y1="243.3" x2="973.5" y2="243.3" class="k" style="stroke-width:0.6"/>
<path d="M952.2,243.3 L955.7,247.3 L959.2,243.3" class="k"/>
<text x="966.9" y="177.3" class="tk" font-size="12" textLength="3.7" lengthAdjust="spacingAndGlyphs">6</text>
<line x1="966.4" y1="178.8" x2="971.1" y2="178.8" class="k"/>
<line x1="966.9" y1="178.8" x2="954.3" y2="243" class="k"/>
<path d="M954.30,243.00 L954.28,238.41 L956.05,238.76 Z" class="f"/>
<line x1="938.5" y1="266" x2="946" y2="258.5" class="k" style="stroke-width:2.2"/>
<path d="M944.5,261 Q951.5,265 953,276.5 M941,267.5 Q947,270 948.5,276.5" class="k"/>
<line x1="937.8" y1="276.3" x2="967.9" y2="276.3" class="k" style="stroke-width:2"/>
<line x1="938.8" y1="278.5" x2="967" y2="278.5" class="k"/>
<line x1="938.8" y1="276" x2="938.8" y2="300" class="k"/>
<line x1="967" y1="276" x2="967" y2="300" class="k"/>
<line x1="954" y1="276" x2="954" y2="345" class="gd"/>
<line x1="955.8" y1="278" x2="955.8" y2="300" class="k" style="stroke-width:0.6"/>
<line x1="910" y1="284.3" x2="938.8" y2="284.3" class="k"/>
<line x1="967" y1="284.3" x2="989.8" y2="284.3" class="k"/>
<line x1="917.8" y1="284.3" x2="917.8" y2="336" class="k"/>
<line x1="919.7" y1="284.3" x2="919.7" y2="336" class="k"/>
<line x1="988.3" y1="284.3" x2="988.3" y2="336" class="k"/>
<line x1="989.8" y1="284.3" x2="989.8" y2="336" class="k"/>
<line x1="910" y1="301.6" x2="989.8" y2="301.6" class="k"/>
<line x1="910" y1="303.5" x2="989.8" y2="303.5" class="k"/>
<rect x="937.6" y="306" width="32.3" height="10.3" class="k" style="stroke-width:1.2"/>
<rect x="937.6" y="305.8" width="32.3" height="2.2" fill="#000"/>
<rect x="937.6" y="310.2" width="32.3" height="1.6" fill="#000"/>
<rect x="937.6" y="314.6" width="32.3" height="1.8" fill="#000"/>
<rect x="953.2" y="306" width="1.6" height="10.3" fill="#000"/>
<rect x="937.6" y="305.8" width="2" height="10.5" fill="#000"/>
<rect x="967.9" y="305.8" width="2" height="10.5" fill="#000"/>
<line x1="940.4" y1="316.3" x2="940.4" y2="325.3" class="k" style="stroke-width:0.8"/>
<line x1="943" y1="316.3" x2="943" y2="325.3" class="k" style="stroke-width:0.8"/>
<line x1="945.6" y1="316.3" x2="945.6" y2="325.3" class="k" style="stroke-width:0.8"/>
<line x1="948.2" y1="316.3" x2="948.2" y2="325.3" class="k" style="stroke-width:0.8"/>
<line x1="951" y1="316.3" x2="951" y2="325.3" class="k" style="stroke-width:0.8"/>
<line x1="957.5" y1="316.3" x2="957.5" y2="325.3" class="k" style="stroke-width:0.8"/>
<line x1="960.2" y1="316.3" x2="960.2" y2="325.3" class="k" style="stroke-width:0.8"/>
<line x1="962.8" y1="316.3" x2="962.8" y2="325.3" class="k" style="stroke-width:0.8"/>
<line x1="965.4" y1="316.3" x2="965.4" y2="325.3" class="k" style="stroke-width:0.8"/>
<line x1="968" y1="316.3" x2="968" y2="325.3" class="k" style="stroke-width:0.8"/>
<rect x="948.5" y="318.5" width="11" height="6.8" class="k"/>
<line x1="936.6" y1="325.5" x2="971.4" y2="325.5" class="k" style="stroke-width:1.8"/>
<path d="M937,325.5 L935.7,336 M971,325.5 L972.3,336 M940,327 L944,335 M944,327 L940,335 M963,327 L967,335 M967,327 L963,335" class="k"/>
<line x1="936" y1="333.5" x2="972" y2="333.5" class="k" style="stroke-width:0.8"/>
<line x1="909.3" y1="284.8" x2="917.8" y2="284.8" class="g"/>
<line x1="911.6" y1="284.8" x2="911.6" y2="335.4" class="g"/>
<path d="M911.6,284.8 L910.3000000000001,290.8 L912.9,290.8 Z" class="f"/>
<path d="M911.6,335.4 L910.3000000000001,329.4 L912.9,329.4 Z" class="f"/>
<text x="909" y="313.3" class="tg" font-size="10.5" textLength="15.5" lengthAdjust="spacingAndGlyphs" transform="rotate(-90 909 313.3)">2000</text>
<path d="M981,268.8 L1023.5,268.8 Q1027,268.8 1027,272.3 Q1027,275.8 1023.5,275.8 L981,275.8 Q977.3,275.8 977.3,272.3 Q977.3,268.8 981,268.8 Z" class="k" style="stroke-width:1.3;fill:#888"/>
<path d="M979,270.9 L1025,270.9 M979,273.7 L1025,273.7" stroke="#ddd" stroke-width="0.9" stroke-dasharray="2 1.5" fill="none"/>
<path d="M972.6,276 L980.1,276 L980.1,280 Q980.1,281.6 978,281.6 L974.5,281.6 Q972.6,281.6 972.6,280 Z" class="k"/>
<path d="M967,292 L974,281.6 M969.5,292.5 L976.5,282 M965,290 L972.5,281.6" class="k"/>
<line x1="967" y1="292" x2="967" y2="296" class="k" style="stroke-width:0.8"/>
<text x="993.8" y="177.3" class="tk" font-size="12" textLength="3.7" lengthAdjust="spacingAndGlyphs">5</text>
<line x1="993.3" y1="178.8" x2="998.0" y2="178.8" class="k"/>
<line x1="993.8" y1="178.8" x2="980.7" y2="269.4" class="k"/>
<path d="M980.70,269.40 L980.45,264.82 L982.23,265.08 Z" class="f"/>
<line x1="993.7" y1="201.3" x2="1035.7" y2="201.3" class="k" style="stroke-width:1.8"/>
<circle cx="994" cy="201.5" r="1" class="k" style="fill:#111"/>
<circle cx="1035.5" cy="201.5" r="1" class="k" style="fill:#111"/>
<line x1="995.6" y1="201.3" x2="996.5" y2="239.2" class="k"/>
<line x1="1034.3" y1="201.3" x2="1033" y2="239.2" class="k"/>
<line x1="996.5" y1="239.2" x2="1033" y2="239.2" class="k" style="stroke-width:1.2"/>
<line x1="1015" y1="198" x2="1015" y2="336" class="gd"/>
<path d="M998.4,240.7 L999.5,235.5 L1001.5,235.5 L1002.6,240.7 M1027.3,240.7 L1028.4,235.5 L1030.4,235.5 L1031.5,240.7" class="k" style="stroke-width:0.9"/>
<line x1="1000.6" y1="239.2" x2="1012.5" y2="263.9" class="k"/>
<line x1="1028.7" y1="239.2" x2="1017.5" y2="263.9" class="k"/>
<rect x="1012.5" y="263.9" width="5" height="4.2" class="k"/>
<line x1="1011" y1="265" x2="1019" y2="265" class="k" style="stroke-width:0.8"/>
<line x1="998.5" y1="239.2" x2="998.5" y2="336" class="k"/>
<line x1="1000.6" y1="239.2" x2="1000.6" y2="336" class="k"/>
<line x1="1028" y1="239.2" x2="1028" y2="336" class="k"/>
<line x1="1030.1" y1="239.2" x2="1030.1" y2="336" class="k"/>
<line x1="998.5" y1="302.9" x2="1030.1" y2="302.9" class="k"/>
<line x1="998.5" y1="305.4" x2="1030.1" y2="305.4" class="k"/>
<text x="1005.4" y="196.3" class="te" font-size="8.5" textLength="21.1" lengthAdjust="spacingAndGlyphs">5.226</text>
<line x1="1005.5" y1="196.8" x2="1026.5" y2="196.8" class="k" style="stroke-width:0.6"/>
<path d="M1005.5,196.8 L1009,200.8 L1012.5,196.8" class="k"/>
<text x="1012" y="178.2" class="tk" font-size="12" textLength="3.9" lengthAdjust="spacingAndGlyphs">4</text>
<line x1="1011.5" y1="179.7" x2="1016.4" y2="179.7" class="k"/>
<line x1="1012" y1="179.7" x2="1003.5" y2="201.3" class="k"/>
<path d="M1003.50,201.30 L1004.31,196.78 L1005.99,197.44 Z" class="f"/>
<path d="M1037.7,158.9 L1037.7,152 Q1037.7,148.1 1042,148.1 L1061,148.1 Q1065.4,148.1 1065.4,152 L1065.4,158.9" class="k" style="stroke-width:1.6"/>
<line x1="1036.5" y1="158.7" x2="1067" y2="158.7" class="k" style="stroke-width:2.4"/>
<text x="1051.6" y="143.8" class="te" font-size="8.5" textLength="21.3" lengthAdjust="spacingAndGlyphs">7.290</text>
<line x1="1053.0" y1="144.3" x2="1072.9" y2="144.3" class="k" style="stroke-width:0.6"/>
<path d="M1053.0,144.3 L1056.5,148.3 L1060.0,144.3" class="k"/>
<rect x="1052" y="153.5" width="7" height="19.4" class="k" style="fill:#333"/>
<circle cx="1055.5" cy="158" r="2" class="k" style="fill:#fff"/>
<circle cx="1055.5" cy="166" r="2.5" class="k" style="fill:#fff"/>
<line x1="1050" y1="169.5" x2="1061" y2="169.5" class="k" style="stroke-width:1.2"/>
<line x1="1044.8" y1="159" x2="1044.8" y2="399.4" class="k" style="stroke-width:1.3"/>
<line x1="1046.5" y1="159" x2="1046.5" y2="399.4" class="k" style="stroke-width:0.9"/>
<line x1="1064" y1="159" x2="1064" y2="399.4" class="k" style="stroke-width:0.9"/>
<line x1="1065.9" y1="159" x2="1065.9" y2="399.4" class="k" style="stroke-width:1.3"/>
<rect x="1045.8" y="170.2" width="35.2" height="18.8" class="k"/>
<line x1="1056.6" y1="170.2" x2="1056.6" y2="189" class="k"/>
<line x1="1070" y1="170.2" x2="1070" y2="189" class="k"/>
<line x1="1045.8" y1="179" x2="1081" y2="179" class="k"/>
<line x1="1045" y1="189" x2="1066.5" y2="189" class="k" style="stroke-width:2.2"/>
<line x1="1079.2" y1="189" x2="1066.6" y2="200.4" class="k"/>
<line x1="1070" y1="189" x2="1066.6" y2="193" class="k"/>
<path d="M1038,159 L1038,171.5 L1022.9,187.8 L1028.2,187.8 L1043.2,176.5 L1044.5,176.5" class="k" style="stroke-width:1.1"/>
<line x1="1036.2" y1="173.6" x2="1041.5" y2="177.2" class="k" style="stroke-width:2.2"/>
<line x1="1044" y1="159" x2="1044" y2="172" class="k" style="stroke-width:0.8"/>
<line x1="1044.8" y1="214.2" x2="1065.9" y2="214.2" class="k" style="stroke-width:2"/>
<line x1="1044.8" y1="242.6" x2="1065.9" y2="242.6" class="k" style="stroke-width:2"/>
<line x1="1044.8" y1="270.2" x2="1065.9" y2="270.2" class="k" style="stroke-width:2"/>
<line x1="1044.8" y1="297.8" x2="1065.9" y2="297.8" class="k" style="stroke-width:2"/>
<line x1="1044.8" y1="326" x2="1065.9" y2="326" class="k" style="stroke-width:2"/>
<line x1="1065.9" y1="166.4" x2="1070" y2="166.4" class="k" style="stroke-width:1.3"/>
<line x1="1065.9" y1="197.8" x2="1070" y2="197.8" class="k" style="stroke-width:1.3"/>
<line x1="1065.9" y1="206.6" x2="1070" y2="206.6" class="k" style="stroke-width:1.3"/>
<line x1="1065.9" y1="223" x2="1070" y2="223" class="k" style="stroke-width:1.3"/>
<line x1="1065.9" y1="233.5" x2="1070" y2="233.5" class="k" style="stroke-width:1.3"/>
<line x1="1065.9" y1="248.8" x2="1070" y2="248.8" class="k" style="stroke-width:1.3"/>
<line x1="1065.9" y1="262.7" x2="1070" y2="262.7" class="k" style="stroke-width:1.3"/>
<line x1="1065.9" y1="276.5" x2="1070" y2="276.5" class="k" style="stroke-width:1.3"/>
<line x1="1065.9" y1="290.3" x2="1070" y2="290.3" class="k" style="stroke-width:1.3"/>
<line x1="1065.9" y1="305.4" x2="1070" y2="305.4" class="k" style="stroke-width:1.3"/>
<line x1="1065.9" y1="319.2" x2="1070" y2="319.2" class="k" style="stroke-width:1.3"/>
<line x1="1065.9" y1="333" x2="1070" y2="333" class="k" style="stroke-width:1.3"/>
<rect x="1043.9" y="381.8" width="22.6" height="17.6" class="k"/>
<circle cx="1055.6" cy="388.5" r="5.2" class="k" style="stroke-width:1.5"/>
<circle cx="1055.6" cy="388.5" r="2.5" class="k"/>
<line x1="1055.6" y1="362" x2="1055.6" y2="384" class="k" style="stroke-width:0.8"/>
<text x="1107.3" y="203.1" class="tk" font-size="12" textLength="4.1" lengthAdjust="spacingAndGlyphs">3</text>
<line x1="1106.8" y1="204.6" x2="1111.9" y2="204.6" class="k"/>
<line x1="1107.3" y1="204.6" x2="1031.5" y2="252.3" class="k"/>
<path d="M1031.50,252.30 L1034.83,249.14 L1035.79,250.67 Z" class="f"/>
<text x="1107.3" y="237.3" class="tk" font-size="12" textLength="4.1" lengthAdjust="spacingAndGlyphs">2</text>
<line x1="1106.8" y1="238.8" x2="1111.9" y2="238.8" class="k"/>
<line x1="1107.3" y1="238.8" x2="1066.6" y2="277.7" class="k"/>
<path d="M1066.60,277.70 L1069.23,273.94 L1070.47,275.24 Z" class="f"/>
<line x1="1030" y1="240" x2="1044" y2="240" class="g"/>
<line x1="1040.3" y1="240" x2="1040.3" y2="334.3" class="g"/>
<path d="M1040.3,240 L1039.0,246 L1041.6,246 Z" class="f"/>
<path d="M1040.3,334.3 L1039.0,328.3 L1041.6,328.3 Z" class="f"/>
<text x="1037.4" y="295.3" class="tg" font-size="10.5" textLength="15.3" lengthAdjust="spacingAndGlyphs" transform="rotate(-90 1037.4 295.3)">3700</text>
<line x1="1055.8" y1="302.9" x2="1088" y2="302.9" class="g"/>
<path d="M1055.8,302.9 L1061.8,301.59999999999997 L1061.8,304.2 Z" class="f"/>
<path d="M1088,302.9 L1082,301.59999999999997 L1082,304.2 Z" class="f"/>
<line x1="1055.8" y1="296" x2="1055.8" y2="313" class="g"/>
<line x1="1088" y1="296" x2="1088" y2="336" class="g"/>
<text x="1069" y="300.3" class="tg" font-size="10.5" textLength="14.5" lengthAdjust="spacingAndGlyphs">1235</text>
<path d="M888.5,336 L888.5,362 L918,362 L918,375.4 L983.5,375.4 L983.5,362 L1024.9,362 L1024.9,415.6 L1080.9,415.6 L1080.9,386 L1094,374.4 L1137.5,374.4 L1137.5,336 Z M895.2,336 L895.2,357.5 L1030.2,357.5 L1030.2,400.8 L1074.6,400.8 L1074.6,382.5 L1098.7,362 L1131.2,362 L1131.2,336 Z" fill="url(#conc)" fill-rule="evenodd" stroke="#111" stroke-width="1.1"/>
<line x1="1074.6" y1="336" x2="1074.6" y2="382.5" class="k" style="stroke-width:1"/>
<line x1="1074.6" y1="382.5" x2="1064.5" y2="391" class="k" style="stroke-width:1"/>
<path d="M913,339.5 L930,339.5 Q931.8,339.5 931.8,341.5 L931.8,351 Q931.8,352.8 930,352.8 L913,352.8 Q911.3,352.8 911.3,351 L911.3,341.5 Q911.3,339.5 913,339.5 Z" class="k" style="stroke-width:1.2"/>
<rect x="922.5" y="337.5" width="3" height="2" class="k"/>
<rect x="918.5" y="343" width="3.5" height="6" class="k" style="stroke-width:0.8"/>
<line x1="931.8" y1="346.2" x2="943.4" y2="346.2" class="g"/>
<circle cx="934.5" cy="346.5" r="2.2" class="k" style="stroke-width:1.2"/>
<circle cx="938.5" cy="346.5" r="2.2" class="k" style="stroke-width:1.2"/>
<rect x="943.4" y="339.5" width="16.5" height="12" class="k" style="stroke-width:1.2"/>
<rect x="946" y="341.5" width="11" height="8" class="k" style="fill:#555"/>
<rect x="949" y="336" width="5" height="3.5" class="k"/>
<path d="M916,353.2 L962,353.2 L964.5,357 L916,357 Z" class="k" style="stroke-width:1"/>
<rect x="916" y="355" width="48" height="1.2" fill="#000"/>
<text x="990.6" y="354" class="te" font-size="9.5" textLength="25.6" lengthAdjust="spacingAndGlyphs">-0.850</text>
<path d="M994.5,354.5 L998.5,357.5 L1002.5,354.5" class="k" style="stroke-width:0.8"/>
<line x1="994.5" y1="354.5" x2="1016.4" y2="354.5" class="k" style="stroke-width:0.7"/>
<text x="994.2" y="396.6" class="te" font-size="9.5" textLength="26.5" lengthAdjust="spacingAndGlyphs">-2.500</text>
<path d="M998.5,397 L1002.7,400 L1006.9,397" class="k" style="stroke-width:0.8"/>
<line x1="998.5" y1="397" x2="1020.7" y2="397" class="k" style="stroke-width:0.7"/>
<line x1="1001.6" y1="400" x2="1030" y2="400" class="k" style="stroke-width:0.7"/>
<line x1="1087.4" y1="322" x2="1087.4" y2="364" class="gd"/>
<path d="M1074.7,348.5 A13,13.5 0 0 1 1086.9,335.4" class="k" style="stroke-width:1.6"/>
<path d="M1086.9,335.4 L1097.7,330.2 L1113.7,330.2 L1098.2,343.8 M1097.7,330.2 L1103.3,337.7" class="k" style="stroke-width:1.1"/>
<path d="M1103.3,337.7 L1094.9,343.4 L1096.5,345.2 L1104.8,339.5 Z" class="k" style="stroke-width:0.9;fill:#666"/>
<circle cx="1087.4" cy="349.9" r="5.2" class="k" style="stroke-width:2"/>
<circle cx="1087.4" cy="349.9" r="2.4" class="k" style="stroke-width:0.8"/>
<line x1="1081.5" y1="349.9" x2="1093.3" y2="349.9" class="k" style="stroke-width:0.7"/>
<line x1="1087.4" y1="344" x2="1087.4" y2="355.8" class="k" style="stroke-width:0.7"/>
<rect x="1074.7" y="349.5" width="25.3" height="11.7" class="k" style="stroke-width:1.1"/>
<rect x="1074.7" y="349.5" width="5" height="2" fill="#222"/>
<rect x="1095.5" y="349.5" width="4.5" height="2" fill="#222"/>
<line x1="1076.6" y1="351" x2="1076.6" y2="361.2" class="k" style="stroke-width:0.9"/>
<line x1="1082.2" y1="351" x2="1082.2" y2="361.2" class="k" style="stroke-width:0.9"/>
<line x1="1092.5" y1="351" x2="1092.5" y2="361.2" class="k" style="stroke-width:0.9"/>
<line x1="1098.2" y1="351" x2="1098.2" y2="361.2" class="k" style="stroke-width:0.9"/>
<line x1="1100" y1="347.6" x2="1117.9" y2="350.9" class="k"/>
<line x1="1100" y1="356.5" x2="1114.1" y2="356.5" class="k"/>
<path d="M1112,357 L1118.4,348.3 L1125,354" class="k" style="stroke-width:1.2"/>
<circle cx="1118.4" cy="354.6" r="4.6" class="k" style="stroke-width:1.8"/>
<circle cx="1118.4" cy="354.6" r="1.8" class="k" style="stroke-width:0.8"/>
<rect x="1111.3" y="358.4" width="16" height="2" class="k" style="stroke-width:0.5;fill:#222"/>
<text x="1106.8" y="288.5" class="tk" font-size="12" textLength="2.5" lengthAdjust="spacingAndGlyphs">1</text>
<line x1="1106.3" y1="290" x2="1109.8" y2="290" class="k"/>
<line x1="1106.8" y1="290" x2="1098.1" y2="332" class="k"/>
<path d="M1098.10,332.00 L1098.13,327.41 L1099.89,327.78 Z" class="f"/>
<rect x="1181.1" y="284.2" width="41.6" height="51.8" class="k" style="stroke-width:1.2"/>
<line x1="1181.1" y1="286.9" x2="1222.7" y2="286.9" class="g" style="stroke-width:1"/>
<path d="M1202.1,284.2 L1202.1,336" stroke="#777" stroke-width="1.8"/>
<rect x="1184.8" y="293.4" width="2.2" height="2.3" fill="#111"/>
<rect x="1187.6" y="293.4" width="2.2" height="2.3" fill="#111"/>
<rect x="1190.4" y="293.4" width="2.2" height="2.3" fill="#111"/>
<rect x="1193.2" y="293.4" width="2.2" height="2.3" fill="#111"/>
<rect x="1196.4" y="293.4" width="2.2" height="2.3" fill="#111"/>
<rect x="1186" y="297.3" width="3" height="1" fill="#333"/>
<rect x="1191.5" y="297.3" width="3" height="1" fill="#333"/>
<rect x="1186" y="299.4" width="3.1" height="5.4" class="k" style="stroke-width:0.9"/>
<rect x="1191.4" y="299.4" width="3" height="5.4" class="k" style="stroke-width:0.9"/>
<rect x="1205.4" y="293.1" width="1.1" height="1.1" fill="#222"/>
<rect x="1207.25" y="293.1" width="1.1" height="1.1" fill="#222"/>
<rect x="1209.1000000000001" y="293.1" width="1.1" height="1.1" fill="#222"/>
<rect x="1210.95" y="293.1" width="1.1" height="1.1" fill="#222"/>
<rect x="1212.8000000000002" y="293.1" width="1.1" height="1.1" fill="#222"/>
<rect x="1214.65" y="293.1" width="1.1" height="1.1" fill="#222"/>
<rect x="1216.5" y="293.1" width="1.1" height="1.1" fill="#222"/>
<rect x="1205.4" y="296.6" width="1.1" height="1.1" fill="#222"/>
<rect x="1207.25" y="296.6" width="1.1" height="1.1" fill="#222"/>
<rect x="1209.1000000000001" y="296.6" width="1.1" height="1.1" fill="#222"/>
<rect x="1210.95" y="296.6" width="1.1" height="1.1" fill="#222"/>
<rect x="1212.8000000000002" y="296.6" width="1.1" height="1.1" fill="#222"/>
<rect x="1214.65" y="296.6" width="1.1" height="1.1" fill="#222"/>
<rect x="1216.5" y="296.6" width="1.1" height="1.1" fill="#222"/>
<rect x="1206.8" y="300.1" width="1.1" height="1.1" fill="#222"/>
<rect x="1208.6499999999999" y="300.1" width="1.1" height="1.1" fill="#222"/>
<rect x="1210.5" y="300.1" width="1.1" height="1.1" fill="#222"/>
<rect x="1212.35" y="300.1" width="1.1" height="1.1" fill="#222"/>
<rect x="1214.2" y="300.1" width="1.1" height="1.1" fill="#222"/>
<rect x="1207.7" y="303.2" width="1.1" height="1.1" fill="#222"/>
<rect x="1209.55" y="303.2" width="1.1" height="1.1" fill="#222"/>
<rect x="1211.4" y="303.2" width="1.1" height="1.1" fill="#222"/>
<rect x="1213.25" y="303.2" width="1.1" height="1.1" fill="#222"/>
<rect x="1210.7" y="306.1" width="1.1" height="1.1" fill="#222"/>
<path d="M1210.9,309.4 L1214,313.9 L1208.5,313.9 Z" class="k" style="stroke-width:1"/>
<rect x="1202" y="310.1" width="1.9" height="4.6" fill="#111"/>
<text x="1172.3" y="241.6" class="tk" font-size="12" textLength="8.8" lengthAdjust="spacingAndGlyphs">23</text>
<line x1="1171.8" y1="243.1" x2="1181.6" y2="243.1" class="k"/>
<line x1="1181.1" y1="243.1" x2="1200.7" y2="285.8" class="k"/>
<path d="M1200.70,285.80 L1198.00,282.09 L1199.64,281.33 Z" class="f"/>
<text x="766" y="364.0" class="tk" font-size="12" textLength="5.5" lengthAdjust="spacingAndGlyphs">11</text>
<line x1="765.5" y1="365.5" x2="772.0" y2="365.5" class="k"/>
<line x1="771.5" y1="365.5" x2="826.4" y2="299.7" class="k"/>
<path d="M826.40,299.70 L824.21,303.73 L822.83,302.58 Z" class="f"/>
<text x="789.8" y="364.0" class="tk" font-size="12" textLength="6.1" lengthAdjust="spacingAndGlyphs">12</text>
<line x1="789.3" y1="365.5" x2="796.4" y2="365.5" class="k"/>
<line x1="795.9" y1="365.5" x2="874.5" y2="292.2" class="k"/>
<path d="M874.50,292.20 L871.82,295.93 L870.60,294.61 Z" class="f"/>
<text x="838" y="364.0" class="tk" font-size="12" textLength="6.4" lengthAdjust="spacingAndGlyphs">13</text>
<line x1="837.5" y1="365.5" x2="844.9" y2="365.5" class="k"/>
<line x1="844.4" y1="365.5" x2="917.8" y2="310.7" class="k"/>
<path d="M917.80,310.70 L914.73,314.11 L913.66,312.67 Z" class="f"/>
<text x="874.5" y="362.2" class="tk" font-size="12" textLength="6.8" lengthAdjust="spacingAndGlyphs">14</text>
<line x1="874" y1="363.7" x2="887.6" y2="363.7" class="k"/>
<line x1="887.6" y1="363.7" x2="937.6" y2="318.2" class="k"/>
<path d="M937.6,318.2 L933.6,320.9 L934.8,322.2 Z" class="f"/>
<line x1="733" y1="406.2" x2="1137" y2="406.2" class="g"/>
<path d="M733,406.2 L739,404.9 L739,407.5 Z" class="f"/>
<path d="M1137,406.2 L1131,404.9 L1131,407.5 Z" class="f"/>
<line x1="1137.5" y1="374.4" x2="1137.5" y2="408" class="g"/>
<text x="920.1" y="403.5" class="tg" font-size="10.5" textLength="18" lengthAdjust="spacingAndGlyphs">15672</text>
<line x1="254.4" y1="282" x2="254.4" y2="398" class="g"/>
<line x1="386.3" y1="336" x2="386.3" y2="365.5" class="g"/>
<line x1="418.2" y1="336" x2="418.2" y2="365.5" class="g"/>
<line x1="486.8" y1="336" x2="486.8" y2="365.5" class="g"/>
<line x1="568.3" y1="336" x2="568.3" y2="398" class="g"/>
<line x1="254.4" y1="362.8" x2="568.3" y2="362.8" class="g"/>
<path d="M254.4,362.8 L260.4,361.5 L260.4,364.1 Z" class="f"/>
<path d="M568.3,362.8 L562.3,361.5 L562.3,364.1 Z" class="f"/>
<path d="M385.8,362.8 L379.8,361.5 L379.8,364.1 Z" class="f"/>
<path d="M386.8,362.8 L392.8,361.5 L392.8,364.1 Z" class="f"/>
<path d="M417.7,362.8 L411.7,361.5 L411.7,364.1 Z" class="f"/>
<path d="M418.7,362.8 L424.7,361.5 L424.7,364.1 Z" class="f"/>
<path d="M486.3,362.8 L480.3,361.5 L480.3,364.1 Z" class="f"/>
<path d="M487.3,362.8 L493.3,361.5 L493.3,364.1 Z" class="f"/>
<line x1="254.4" y1="396.9" x2="568.3" y2="396.9" class="g"/>
<path d="M254.4,396.9 L260.4,395.59999999999997 L260.4,398.2 Z" class="f"/>
<path d="M568.3,396.9 L562.3,395.59999999999997 L562.3,398.2 Z" class="f"/>
<text x="312.9" y="360.5" class="tg" font-size="10.5" textLength="16.3" lengthAdjust="spacingAndGlyphs">4720</text>
<text x="394.8" y="360.7" class="tg" font-size="10.5" textLength="15" lengthAdjust="spacingAndGlyphs">1230</text>
<text x="445.2" y="360.5" class="tg" font-size="10.5" textLength="15.1" lengthAdjust="spacingAndGlyphs">2650</text>
<text x="520.1" y="360.5" class="tg" font-size="10.5" textLength="14.9" lengthAdjust="spacingAndGlyphs">3150</text>
<text x="403" y="394.4" class="tg" font-size="10.5" textLength="17.1" lengthAdjust="spacingAndGlyphs">11750</text>
</svg></body></html>
